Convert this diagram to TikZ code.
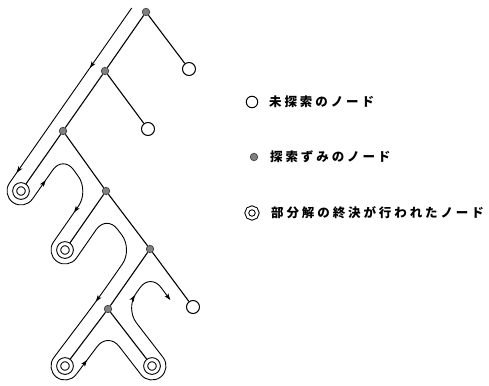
\documentclass[tikz,border=0pt]{standalone}
\usepackage{fontspec}
\newfontfamily\cjk{Noto Sans CJK JP}
\usetikzlibrary{arrows.meta,decorations.markings,calc}
\def\lspacedi#1{\ifx#1\relax\else\makebox[15.4pt][l]{#1}\expandafter\lspacedi\fi}
\newcommand\lspaced[1]{\lspacedi#1\relax}
\begin{document}
\begin{tikzpicture}[x=1pt,y=1pt,
  edge/.style={line width=1.1pt},
  openn/.style={circle,draw,line width=1pt,fill=white,minimum size=13pt,inner sep=0pt},
  donen/.style={circle,draw=black!75,fill=black!50,line width=0.7pt,minimum size=7.5pt,inner sep=0pt},
  leafn/.style={circle,draw,double,double distance=3pt,line width=1pt,minimum size=12.6pt,inner sep=0pt,outer sep=2.4pt},
  leafsmall/.style={circle,draw,double,double distance=2.6pt,line width=1pt,minimum size=10.5pt,inner sep=0pt},
  tour/.style={line width=0.9pt},
  tourtip/.tip={Stealth[length=6.5pt,width=4.5pt,inset=1.5pt]},
  marks/.style={postaction={decorate},decoration={markings,#1}},
  legtext/.style={anchor=west,inner sep=0pt,font=\cjk\bfseries\fontsize{12.5pt}{13pt}\selectfont}]
\useasboundingbox (0,0) rectangle (489,-385);
% tree nodes
\node[donen] (N1) at (146,-12) {};
\node[openn] (U1) at (189,-69) {};
\node[donen] (N2) at (105,-71) {};
\node[openn] (U2) at (148,-129) {};
\node[donen] (N3) at (63,-131) {};
\node[leafn] (L1) at (21,-191) {};
\node[donen] (N4) at (106,-191) {};
\node[leafn] (L2) at (65,-250) {};
\node[donen] (N5) at (150,-249) {};
\node[openn] (U3) at (193,-307) {};
\node[donen] (N6) at (108,-309) {};
\node[leafn] (L3) at (65,-366) {};
\node[leafn] (L4) at (152,-366) {};
% tree edges
\draw[edge] (N1) -- (U1);
\draw[edge] (N1) -- (N2);
\draw[edge] (N2) -- (U2);
\draw[edge] (N2) -- (N3);
\draw[edge] (N3) -- (L1);
\draw[edge] (N3) -- (N4);
\draw[edge] (N4) -- (L2);
\draw[edge] (N4) -- (N5);
\draw[edge] (N5) -- (U3);
\draw[edge] (N5) -- (N6);
\draw[edge] (N6) -- (L3);
\draw[edge] (N6) -- (L4);
% search path coordinates
\coordinate (P0) at (131.7,-8);
\coordinate (T1) at (9.52,-182.98);
\coordinate (T2) at (32.47,-199.03);
\coordinate (C1) at (63.1,-155.2);
\coordinate (C2) at (88.9,-191.1);
\coordinate (T3) at (53.50,-242.01);
\coordinate (T4) at (76.50,-257.99);
\coordinate (C3) at (106.5,-214.8);
\coordinate (C4) at (132.7,-249.3);
\coordinate (C5) at (96.67,-300.77);
\coordinate (T5) at (53.82,-357.57);
\coordinate (T6) at (76.18,-374.43);
\coordinate (C6) at (108.1,-332.1);
\coordinate (T7) at (140.92,-374.55);
\coordinate (T8) at (163.08,-357.45);
\coordinate (C7) at (125.4,-308.6);
\coordinate (C8) at (150.3,-273.0);
\coordinate (E) at (170.3,-300);
% search path
\draw[tour,marks={mark=at position 73pt with {\arrow{tourtip}},mark=at position 201pt with {\arrow{tourtip}}}] (P0) -- (T1);
\draw[tour] (T1) arc[start angle=145.07,end angle=325,radius=14pt];
\draw[tour,rounded corners=18pt,marks={mark=at position 23pt with {\arrow{tourtip}},mark=at position -36pt with {\arrow{tourtip}}}] (T2) -- (C1) -- (C2) -- (T3);
\draw[tour] (T3) arc[start angle=145.21,end angle=325.21,radius=14pt];
\draw[tour,rounded corners=18pt,marks={mark=at position -70pt with {\arrow{tourtip}}}] (T4) -- (C3) -- (C4) -- (C5) -- (T5);
\draw[tour] (T5) arc[start angle=142.97,end angle=322.97,radius=14pt];
\draw[tour,rounded corners=18pt,marks={mark=at position 18pt with {\arrow{tourtip}}}] (T6) -- (C6) -- (T7);
\draw[tour] (T7) arc[start angle=217.66,end angle=397.66,radius=14pt];
\draw[tour,rounded corners=18pt,-{tourtip},marks={mark=at position 73pt with {\arrow{tourtip}}}] (T8) -- (C7) -- (C8) -- (E);
% legend
\node[openn,minimum size=11.5pt] (G1) at (252,-102) {};
\node[legtext] (G1t) at (269,-102) {\lspaced{未探索のノード}};
\node[donen] (G2) at (254,-157) {};
\node[legtext] (G2t) at (270,-157) {\lspaced{探索ずみのノード}};
\node[leafsmall] (G3) at (252,-213) {};
\node[legtext] (G3t) at (271,-213) {\lspaced{部分解の終決が行われたノード}};
\end{tikzpicture}
\end{document}
